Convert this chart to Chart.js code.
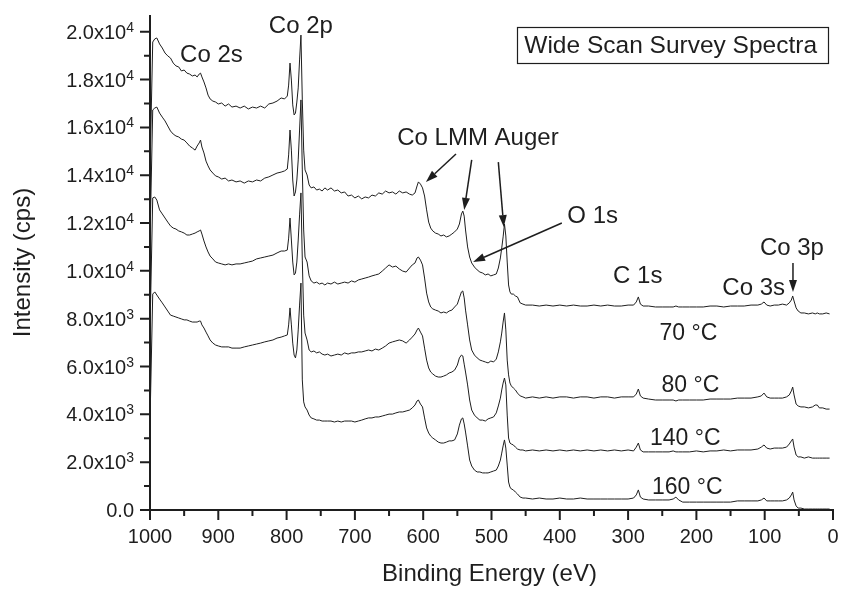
<!DOCTYPE html>
<html>
<head>
<meta charset="utf-8">
<script src="https://cdn.jsdelivr.net/npm/chart.js@4/dist/chart.umd.min.js"></script>
<style>
  body { margin: 0; background: #fff; }
  #wrap { width: 841px; height: 591px; }
</style>
</head>
<body>
<div id="wrap"><canvas id="xps" width="841" height="591"></canvas></div>
<script>
// binding energy grid (eV), shared by all four spectra
const energies = [
  1000, 996, 993, 990, 986, 982, 978, 974, 970, 966, 962, 958, 954, 950,
  946, 942, 938, 934, 931, 928, 926, 924, 921, 918, 915, 912, 908, 904, 900,
  895, 890, 885, 880, 874, 868, 862, 856, 850, 844, 838, 832, 826, 820, 814, 808, 803, 799,
  797, 795, 793, 791, 789, 787, 785, 783, 781, 779, 777, 775, 773, 770, 767, 764, 760,
  756, 752, 748, 744, 740, 735, 730, 725, 720, 715, 710, 705, 700,
  695, 690, 685, 680, 675, 670, 665, 660, 655, 650, 645, 640, 635, 630, 625, 620, 616, 612,
  609, 607, 604, 601, 598, 595, 592, 589, 586, 582, 578, 574, 570, 566, 562, 558, 554, 550,
  547, 544, 542, 540, 538, 535, 532, 529, 525, 521, 517, 513, 509, 505, 501, 497, 493,
  490, 487, 485, 483, 481, 479, 477, 475, 473, 471, 468, 465, 462, 458, 454, 450,
  440, 430, 420, 410, 400, 390, 380, 370, 360, 350, 340, 330, 320, 310, 300,
  292, 288, 285, 282, 278, 270, 260, 250, 240, 234, 230, 226, 220,
  210, 200, 190, 180, 170, 160, 150, 140, 130, 120, 110, 105, 101, 97, 92,
  86, 80, 74, 68, 64, 61, 59, 57, 54, 51, 47, 42, 36, 30, 26, 23, 20, 15, 10, 5
];

// intensities (cps), as plotted (stacked offsets included)
const i70 = [
  14220, 19570, 19700, 19740, 19490, 19320, 19110, 18990, 18900, 18690, 18570, 18530, 18360, 18400,
  18270, 18230, 18150, 18190, 18110, 18230, 18270, 18110, 17900, 17650, 17350, 17190, 17100, 17060, 16980,
  17020, 16890, 16980, 16850, 16890, 16810, 16890, 16770, 16850, 16810, 16890, 16810, 16980, 17020, 17100, 17230, 17190, 17310,
  17770, 18690, 17980, 16940, 16520, 16600, 17060, 17650, 18820, 19860, 17150, 15050, 14220, 14010, 13590, 13470, 13510,
  13380, 13420, 13340, 13470, 13380, 13470, 13340, 13380, 13260, 13300, 13130, 13170, 13050,
  13130, 13010, 13090, 13050, 13170, 13130, 13260, 13210, 13340, 13260, 13300, 13210, 13340, 13260, 13300, 13210, 13170, 13260,
  13550, 13720, 13630, 13470, 13130, 12550, 12040, 11790, 11670, 11580, 11540, 11460, 11500, 11420, 11460, 11540, 11630, 11750,
  11960, 12380, 12500, 12290, 11710, 11000, 10580, 10330, 10160, 10040, 9950, 9910, 9830, 9870, 9790, 9830, 9870,
  10120, 10540, 10960, 11420, 11960, 11460, 10370, 9410, 9120, 9030, 9030, 8950, 8910, 8660, 8610, 8570,
  8570, 8530, 8570, 8530, 8570, 8530, 8570, 8530, 8530, 8570, 8530, 8570, 8530, 8530, 8570,
  8570, 8700, 8910, 8610, 8530, 8530, 8490, 8490, 8490, 8490, 8530, 8490, 8490,
  8490, 8490, 8490, 8530, 8530, 8490, 8530, 8530, 8530, 8570, 8570, 8610, 8700, 8570, 8530,
  8570, 8570, 8610, 8570, 8660, 8780, 8950, 8740, 8450, 8320, 8240, 8240, 8200, 8240, 8200, 8240, 8200, 8200, 8240, 8200
];
const i80 = [
  11290, 16730, 16810, 16850, 16600, 16430, 16270, 16060, 15850, 15720, 15640, 15600, 15510, 15470,
  15350, 15220, 15140, 15050, 15220, 15350, 15470, 15180, 14930, 14590, 14390, 14220, 14090, 13970, 13930,
  13840, 13880, 13760, 13800, 13720, 13760, 13670, 13760, 13720, 13800, 13760, 13880, 13930, 14010, 14090, 14130, 14180, 14260,
  14850, 15890, 15050, 13800, 13130, 13300, 13800, 14640, 15890, 17150, 14220, 11710, 10580, 10370, 9790, 9580, 9490,
  9530, 9450, 9490, 9410, 9490, 9450, 9530, 9450, 9490, 9530, 9490, 9580, 9530,
  9620, 9660, 9700, 9740, 9790, 9830, 9870, 9990, 10120, 10250, 10160, 10200, 10080, 9990, 9950, 10120, 10250, 10330,
  10540, 10580, 10450, 10250, 9700, 9070, 8700, 8490, 8410, 8360, 8320, 8240, 8280, 8240, 8320, 8360, 8490, 8610,
  8870, 9120, 9160, 8870, 8360, 7740, 7110, 6690, 6480, 6360, 6270, 6230, 6190, 6150, 6230, 6190, 6310,
  6610, 7030, 7400, 7860, 8240, 7530, 6270, 5650, 5310, 5190, 5100, 5020, 4890, 4770, 4730, 4680,
  4730, 4680, 4730, 4680, 4730, 4730, 4680, 4730, 4730, 4680, 4730, 4730, 4680, 4730, 4730,
  4730, 4850, 5060, 4770, 4680, 4640, 4600, 4600, 4600, 4600, 4560, 4600, 4600,
  4600, 4600, 4600, 4640, 4640, 4640, 4640, 4680, 4680, 4680, 4730, 4770, 4890, 4730, 4680,
  4680, 4680, 4680, 4730, 4810, 4980, 5140, 4810, 4430, 4350, 4310, 4310, 4270, 4310, 4390, 4390, 4270, 4270, 4220, 4220
];
const i140 = [
  7530, 13050, 13090, 12960, 12550, 12380, 12210, 12040, 11880, 11790, 11750, 11670, 11630, 11580,
  11500, 11500, 11540, 11580, 11630, 11670, 11710, 11540, 11250, 11000, 10790, 10620, 10500, 10370, 10330,
  10290, 10250, 10290, 10250, 10290, 10290, 10330, 10370, 10410, 10500, 10540, 10580, 10620, 10660, 10750, 10830, 10830, 10870,
  11370, 12210, 11290, 10370, 9830, 9910, 10370, 11290, 12340, 13260, 10450, 8150, 7400, 7110, 6690, 6610, 6650,
  6570, 6610, 6520, 6480, 6520, 6440, 6480, 6520, 6480, 6570, 6520, 6570, 6570,
  6610, 6610, 6650, 6690, 6650, 6730, 6690, 6770, 6860, 6980, 7030, 7070, 7110, 7070, 6980, 7110, 7230, 7360,
  7530, 7610, 7440, 7280, 6770, 6270, 5940, 5770, 5690, 5600, 5560, 5560, 5600, 5650, 5730, 5770, 5850, 6060,
  6360, 6480, 6440, 6100, 5770, 5230, 4600, 4180, 3970, 3850, 3760, 3760, 3720, 3810, 3850, 3890, 4060,
  4350, 4680, 5020, 5310, 5520, 5230, 3970, 3010, 2800, 2760, 2720, 2630, 2550, 2510, 2510, 2470,
  2510, 2470, 2510, 2470, 2510, 2470, 2510, 2470, 2510, 2470, 2510, 2470, 2510, 2470, 2510,
  2470, 2630, 2800, 2510, 2430, 2430, 2430, 2430, 2430, 2470, 2430, 2430, 2430,
  2430, 2470, 2430, 2470, 2470, 2510, 2470, 2510, 2510, 2510, 2550, 2630, 2720, 2590, 2550,
  2590, 2590, 2590, 2630, 2760, 2890, 2970, 2630, 2300, 2220, 2220, 2170, 2220, 2170, 2170, 2170, 2170, 2170, 2170, 2170
];
const i160 = [
  3680, 9030, 9120, 8990, 8820, 8660, 8490, 8320, 8150, 8110, 8070, 8030, 7990, 7950,
  7950, 7900, 7860, 7860, 7860, 7900, 7900, 7740, 7610, 7440, 7280, 7110, 6980, 6900, 6860,
  6820, 6820, 6820, 6770, 6770, 6770, 6820, 6860, 6900, 6940, 6980, 7030, 7070, 7110, 7190, 7230, 7280, 7320,
  7740, 8450, 7740, 6980, 6480, 6360, 6690, 7530, 8570, 9490, 5440, 4520, 4310, 4180, 3970, 3850, 3810,
  3760, 3760, 3720, 3720, 3720, 3720, 3680, 3720, 3680, 3720, 3720, 3720, 3680,
  3720, 3760, 3810, 3850, 3850, 3890, 3890, 3930, 3970, 4010, 4010, 4060, 4100, 4100, 4140, 4180, 4270, 4390,
  4560, 4600, 4430, 4310, 3850, 3430, 3220, 3090, 3010, 2930, 2840, 2800, 2800, 2840, 2890, 2890, 2930, 3180,
  3550, 3810, 3850, 3600, 3260, 2680, 2090, 1840, 1670, 1590, 1590, 1550, 1550, 1550, 1590, 1630, 1670,
  1840, 2090, 2380, 2680, 2930, 2590, 1880, 1170, 960, 880, 840, 750, 670, 540, 500, 500,
  460, 500, 460, 460, 500, 460, 460, 500, 460, 460, 460, 460, 460, 460, 460,
  500, 630, 840, 540, 460, 420, 420, 420, 420, 460, 540, 420, 330,
  330, 330, 330, 330, 330, 330, 330, 380, 380, 380, 380, 420, 500, 380, 380,
  380, 380, 380, 420, 500, 630, 750, 420, 170, 80, 80, 40, 40, 40, 40, 40, 40, 40, 40, 40
];
const seriesNames = ['70 °C', '80 °C', '140 °C', '160 °C'];

// axes
const xTickValues = [1000, 900, 800, 700, 600, 500, 400, 300, 200, 100, 0];
const yTickValues = [0, 2000, 4000, 6000, 8000, 10000, 12000, 14000, 16000, 18000, 20000];
const yTickLabels = ['0.0', '2.0x10^3', '4.0x10^3', '6.0x10^3', '8.0x10^3', '1.0x10^4',
                     '1.2x10^4', '1.4x10^4', '1.6x10^4', '1.8x10^4', '2.0x10^4'];

// annotation texts: [text, energy, intensity] (left / baseline of the text)
const peakLabels = [
  ['Co 2s', 956, 18730],
  ['Co 2p', 826, 19950],
  ['Co LMM Auger', 638, 15260],
  ['O 1s', 389, 12000],
  ['C 1s', 322, 9490],
  ['Co 3s', 162, 8990],
  ['Co 3p', 107, 10660]
];
const tempLabels = [
  ['70 °C', 254, 7110],
  ['80 °C', 251, 4930],
  ['140 °C', 268, 2720],
  ['160 °C', 265, 670]
];
// arrows: [fromE, fromI, toE, toI]
const arrows = [
  [552, 14890, 596, 13720],
  [529, 14640, 540, 12550],
  [490, 14550, 482, 11830],
  [397, 12000, 527, 10370],
  [58.6, 10330, 58.6, 9120]
];
const boxTitle = ['Wide Scan Survey Spectra', 452, 19110];
const boxCorners = [463, 20200, 7, 18690];

const FONT = '"Liberation Sans", Arial, Helvetica, sans-serif';
const INK = '#1e1e1e';

function drawArrow(ctx, x1, y1, x2, y2) {
  const ang = Math.atan2(y2 - y1, x2 - x1);
  const len = 12, half = 4;
  const bx = x2 - len * Math.cos(ang), by = y2 - len * Math.sin(ang);
  ctx.beginPath(); ctx.moveTo(x1, y1); ctx.lineTo(bx, by); ctx.stroke();
  ctx.beginPath();
  ctx.moveTo(x2, y2);
  ctx.lineTo(bx + half * Math.sin(ang), by - half * Math.cos(ang));
  ctx.lineTo(bx - half * Math.sin(ang), by + half * Math.cos(ang));
  ctx.closePath(); ctx.fill();
}

const originStyle = {
  id: 'originStyle',
  afterDraw(chart) {
    const { ctx, chartArea: a } = chart;
    const xs = chart.scales.x, ys = chart.scales.y;
    const X = e => xs.getPixelForValue(e), Y = v => ys.getPixelForValue(v);
    ctx.save();
    ctx.strokeStyle = INK; ctx.fillStyle = INK;

    // axis lines
    ctx.lineWidth = 2;
    ctx.beginPath();
    ctx.moveTo(a.left, a.top); ctx.lineTo(a.left, a.bottom + 1);
    ctx.moveTo(a.left - 1, a.bottom); ctx.lineTo(a.right + 1, a.bottom);
    ctx.stroke();

    // ticks (major + minor), pointing out
    ctx.beginPath();
    for (let e = 0; e <= 1000; e += 50) {
      const len = e % 100 === 0 ? 10 : 6;
      ctx.moveTo(X(e), a.bottom); ctx.lineTo(X(e), a.bottom + len);
    }
    for (let v = 0; v <= 20000; v += 1000) {
      const len = v % 2000 === 0 ? 10 : 6;
      ctx.moveTo(a.left, Y(v)); ctx.lineTo(a.left - len, Y(v));
    }
    ctx.stroke();

    // x tick labels
    ctx.font = '20px ' + FONT;
    ctx.textAlign = 'center'; ctx.textBaseline = 'alphabetic';
    xTickValues.forEach(e => ctx.fillText(String(e), X(e), a.bottom + 33));

    // y tick labels with superscript exponent
    const right = a.left - 16;
    yTickValues.forEach((v, i) => {
      const [mant, exp] = yTickLabels[i].split('^');
      const y = Y(v);
      let expW = 0;
      if (exp) {
        ctx.font = '14px ' + FONT;
        expW = ctx.measureText(exp).width;
        ctx.textAlign = 'left';
        ctx.fillText(exp, right - expW, y);
      }
      ctx.font = '20px ' + FONT;
      ctx.textAlign = 'right';
      ctx.fillText(mant, right - expW, y + 7);
    });

    // axis titles
    ctx.font = '24px ' + FONT;
    ctx.textAlign = 'center';
    ctx.fillText('Binding Energy (eV)', (a.left + a.right) / 2 - 2, a.bottom + 71);
    ctx.save();
    ctx.translate(30, (a.top + a.bottom) / 2);
    ctx.rotate(-Math.PI / 2);
    ctx.fillText('Intensity (cps)', 0, 0);
    ctx.restore();

    // peak and temperature labels
    ctx.textAlign = 'left';
    ctx.font = '24px ' + FONT;
    peakLabels.forEach(([t, e, v]) => ctx.fillText(t, X(e), Y(v)));
    ctx.font = '23px ' + FONT;
    tempLabels.forEach(([t, e, v]) => ctx.fillText(t, X(e), Y(v)));

    // arrows
    ctx.lineWidth = 1.5;
    arrows.forEach(([e1, v1, e2, v2]) => drawArrow(ctx, X(e1), Y(v1), X(e2), Y(v2)));

    // boxed title
    ctx.lineWidth = 1.2;
    const [bl, bt, br, bb] = boxCorners;
    ctx.strokeRect(Math.round(X(bl)) + 0.5, Math.round(Y(bt)) + 0.5,
                   Math.round(X(br) - X(bl)), Math.round(Y(bb) - Y(bt)));
    ctx.font = '24.5px ' + FONT;
    ctx.fillText(boxTitle[0], X(boxTitle[1]), Y(boxTitle[2]));

    ctx.restore();
  }
};

const spectra = [i70, i80, i140, i160];

new Chart(document.getElementById('xps'), {
  type: 'line',
  data: {
    datasets: spectra.map((vals, k) => ({
      label: seriesNames[k],
      data: energies.map((e, i) => ({ x: e, y: vals[i] })),
      borderColor: INK,
      borderWidth: 1,
      pointRadius: 0,
      fill: false
    }))
  },
  options: {
    responsive: false,
    animation: false,
    layout: { padding: { left: 150, right: 8, top: 15, bottom: 81 } },
    elements: { line: { tension: 0 } },
    plugins: { legend: { display: false }, tooltip: { enabled: false } },
    scales: {
      x: { type: 'linear', reverse: true, min: 0, max: 1000, display: false },
      y: { type: 'linear', min: 0, max: 20700, display: false }
    }
  },
  plugins: [originStyle]
});
</script>
</body>
</html>
